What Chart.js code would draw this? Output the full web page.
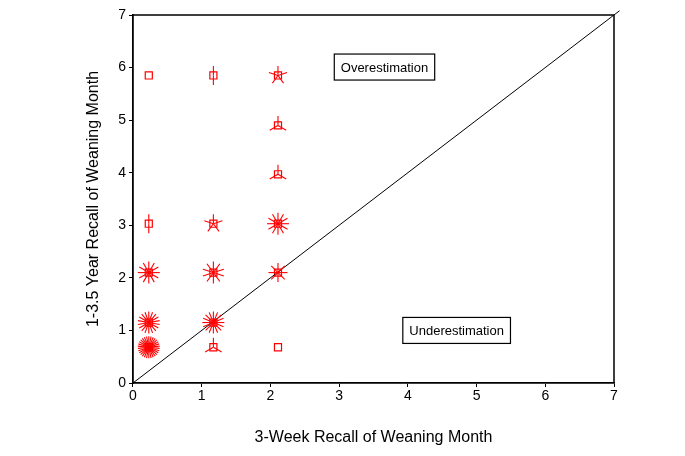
<!DOCTYPE html>
<html>
<head>
<meta charset="utf-8">
<script src="https://cdn.jsdelivr.net/npm/chart.js@4.4.1/dist/chart.umd.min.js"></script>
<style>
  html, body { margin: 0; padding: 0; background: #fff; }
  #wrap { width: 685px; height: 456px; }
</style>
</head>
<body>
<div id="wrap"><canvas id="chart"></canvas></div>
<script>
// Sunflower plot data: each point is a pair of recalls, counts are the number of children
const recall3Week = [0.23, 1.17, 2.11, 2.11, 2.11, 0.23, 1.17, 2.11, 0.23, 1.17, 2.11, 0.23, 1.17, 0.23, 1.17, 2.11];
const recallYears = [5.85, 5.85, 5.85, 4.9, 3.97, 3.03, 3.03, 3.03, 2.1, 2.1, 2.1, 1.15, 1.15, 0.68, 0.68, 0.68];
const counts = [1, 2, 5, 3, 3, 2, 5, 12, 12, 10, 8, 18, 16, 30, 3, 1];

const diagonalX = [0, 7.08];
const xTicks = [0, 1, 2, 3, 4, 5, 6, 7];
const yTicks = [0, 1, 2, 3, 4, 5, 6, 7];

const labelTexts = ["Overestimation", "Underestimation"];
const labelX = [3.66, 4.71];
const labelY = [6.01, 1.0];

const RED = "#ff0000";

// Draws the petals on each sunflower and the frame / text boxes
const sunflowerPlugin = {
  id: "sunflowers",
  afterDatasetsDraw(chart) {
    const ctx = chart.ctx;
    const meta = chart.getDatasetMeta(1);
    ctx.save();
    ctx.strokeStyle = RED;
    ctx.lineWidth = 1.1;
    meta.data.forEach((pt, i) => {
      const n = counts[i];
      if (n < 2) return;
      const len = n > 8 ? 11 : 9.5;
      for (let k = 0; k < n; k++) {
        const a = -Math.PI / 2 + (k * 2 * Math.PI) / n;
        ctx.beginPath();
        ctx.moveTo(pt.x, pt.y);
        ctx.lineTo(pt.x + Math.cos(a) * len, pt.y + Math.sin(a) * len);
        ctx.stroke();
      }
    });
    ctx.restore();
  },
  afterDraw(chart) {
    const ctx = chart.ctx;
    const area = chart.chartArea;
    const xs = chart.scales.x;
    const ys = chart.scales.y;
    ctx.save();
    // top and right frame
    ctx.strokeStyle = "#000";
    ctx.lineWidth = 1.5;
    ctx.beginPath();
    ctx.moveTo(area.left, area.top);
    ctx.lineTo(area.right, area.top);
    ctx.lineTo(area.right, area.bottom);
    ctx.stroke();

    // text boxes
    ctx.font = "13px 'Liberation Sans', Arial, sans-serif";
    ctx.textAlign = "center";
    ctx.textBaseline = "middle";
    ctx.lineWidth = 1.2;
    labelTexts.forEach((t, i) => {
      const cx = xs.getPixelForValue(labelX[i]);
      const cy = ys.getPixelForValue(labelY[i]);
      const w = ctx.measureText(t).width + 13;
      const h = 26;
      ctx.fillStyle = "#fff";
      ctx.fillRect(cx - w / 2, cy - h / 2, w, h);
      ctx.strokeRect(cx - w / 2, cy - h / 2, w, h);
      ctx.fillStyle = "#000";
      ctx.fillText(t, cx, cy + 1);
    });
    ctx.restore();
  }
};

const ctx = document.getElementById("chart").getContext("2d");
new Chart(ctx, {
  type: "scatter",
  data: {
    datasets: [
      {
        type: "line",
        data: diagonalX.map((v) => ({ x: v, y: v })),
        borderColor: "#000",
        borderWidth: 1,
        pointRadius: 0,
        fill: false,
        clip: false
      },
      {
        data: recall3Week.map((v, i) => ({ x: v, y: recallYears[i] })),
        pointStyle: "rect",
        pointRadius: 5,
        pointBorderColor: RED,
        pointBackgroundColor: "rgba(255,255,255,0)",
        pointBorderWidth: 1.2,
        pointHoverRadius: 5
      }
    ]
  },
  options: {
    responsive: true,
    maintainAspectRatio: false,
    animation: false,
    layout: { padding: { top: 15, right: 71, bottom: 5, left: 80 } },
    plugins: {
      legend: { display: false },
      tooltip: { enabled: false }
    },
    scales: {
      x: {
        type: "linear",
        min: 0,
        max: 7,
        afterBuildTicks: (axis) => { axis.ticks = xTicks.map((v) => ({ value: v })); },
        ticks: { color: "#000", font: { size: 14, family: "'Liberation Sans', Arial" }, padding: 1 },
        grid: { display: true, drawOnChartArea: false, drawTicks: true, tickLength: 4, color: "#000" },
        border: { display: true, color: "#000", width: 1.8 },
        title: {
          display: true,
          text: "3-Week Recall of Weaning Month",
          color: "#000",
          font: { size: 16, family: "'Liberation Sans', Arial" },
          padding: { top: 22 }
        }
      },
      y: {
        type: "linear",
        min: 0,
        max: 7,
        afterBuildTicks: (axis) => { axis.ticks = yTicks.map((v) => ({ value: v })); },
        ticks: { color: "#000", font: { size: 14, family: "'Liberation Sans', Arial" }, padding: 3 },
        grid: { display: true, drawOnChartArea: false, drawTicks: true, tickLength: 4, color: "#000" },
        border: { display: true, color: "#000", width: 1.8 },
        title: {
          display: true,
          text: "1-3.5 Year Recall of Weaning Month",
          color: "#000",
          font: { size: 16, family: "'Liberation Sans', Arial" },
          padding: { bottom: 12 }
        }
      }
    }
  },
  plugins: [sunflowerPlugin]
});
</script>
</body>
</html>
